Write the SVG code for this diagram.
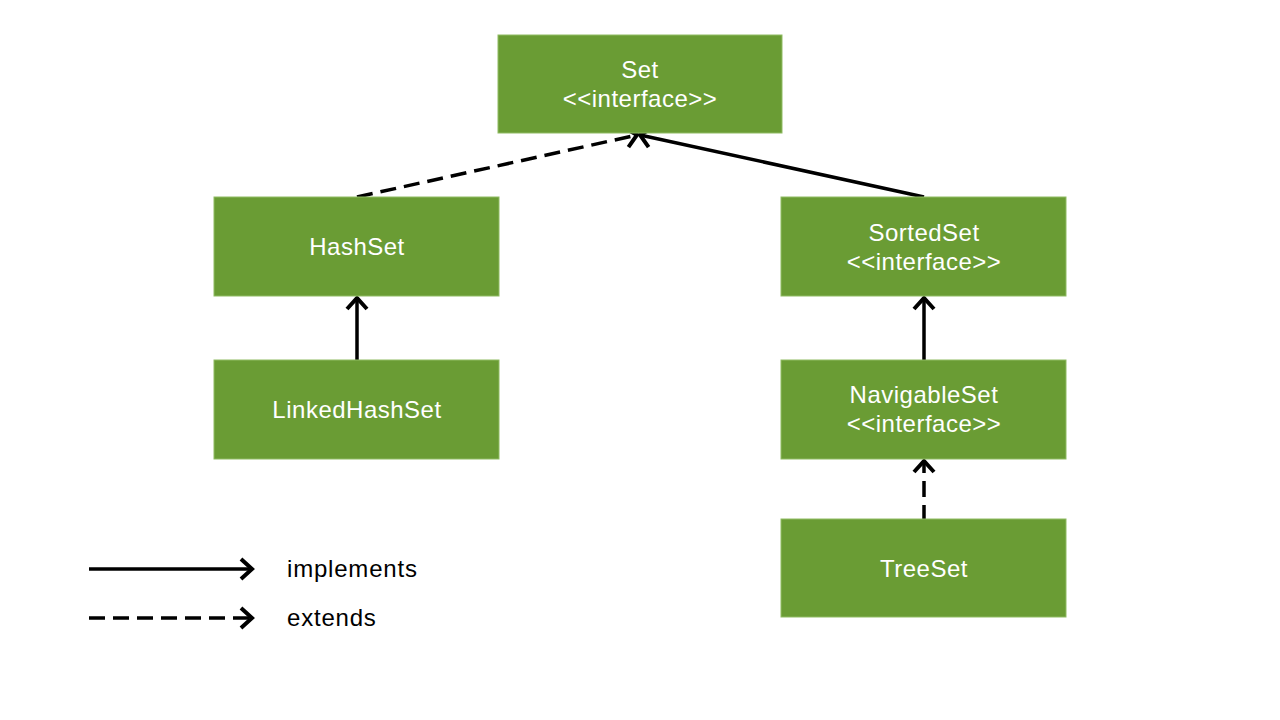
<svg xmlns="http://www.w3.org/2000/svg" width="1280" height="720" viewBox="0 0 1280 720">
<defs>
<marker id="arr" markerUnits="userSpaceOnUse" markerWidth="30" markerHeight="30" refX="14" refY="12" orient="auto" overflow="visible">
<path d="M3,2 L14,12 L3,22" fill="none" stroke="#000" stroke-width="4" stroke-linejoin="miter" stroke-linecap="butt"/>
</marker>
</defs>
<style>
.box{fill:#6a9c34;stroke:#8fbb63;stroke-width:1}
.t{font-family:"Liberation Sans",Arial,sans-serif;font-size:24px;letter-spacing:0.5px;fill:#fff;text-anchor:middle}
.lg{font-family:"Liberation Sans",Arial,sans-serif;font-size:24px;letter-spacing:0.8px;fill:#000}
.c{stroke:#000;stroke-width:3.5;fill:none}
.d{stroke-dasharray:16 8}
</style>
<rect width="1280" height="720" fill="#fff"/>
<g id="connectors">
<line class="c d" x1="357" y1="197" x2="637" y2="135" marker-end="url(#arr)"/>
<line class="c" x1="924" y1="197" x2="640" y2="135" marker-end="url(#arr)"/>
<line class="c" x1="357" y1="360" x2="357" y2="298" marker-end="url(#arr)"/>
<line class="c" x1="924" y1="360" x2="924" y2="298" marker-end="url(#arr)"/>
<line class="c d" x1="924" y1="519" x2="924" y2="461" marker-end="url(#arr)" stroke-dashoffset="2"/>
</g>
<g id="set">
<rect class="box" x="498" y="35" width="284" height="98"/>
<text class="t" x="640" y="78">Set</text>
<text class="t" x="640" y="107">&lt;&lt;interface&gt;&gt;</text>
</g>
<g id="hashset">
<rect class="box" x="214" y="197" width="285" height="99"/>
<text class="t" x="357" y="255">HashSet</text>
</g>
<g id="linkedhashset">
<rect class="box" x="214" y="360" width="285" height="99"/>
<text class="t" x="357" y="418">LinkedHashSet</text>
</g>
<g id="sortedset">
<rect class="box" x="781" y="197" width="285" height="99"/>
<text class="t" x="924" y="241">SortedSet</text>
<text class="t" x="924" y="270">&lt;&lt;interface&gt;&gt;</text>
</g>
<g id="navigableset">
<rect class="box" x="781" y="360" width="285" height="99"/>
<text class="t" x="924" y="403">NavigableSet</text>
<text class="t" x="924" y="432">&lt;&lt;interface&gt;&gt;</text>
</g>
<g id="treeset">
<rect class="box" x="781" y="519" width="285" height="98"/>
<text class="t" x="924" y="577">TreeSet</text>
</g>
<g id="legend">
<line class="c" x1="89" y1="569" x2="252" y2="569" marker-end="url(#arr)"/>
<text class="lg" x="287" y="577">implements</text>
<line class="c d" x1="89" y1="618" x2="252" y2="618" marker-end="url(#arr)"/>
<text class="lg" x="287" y="626">extends</text>
</g>
</svg>
